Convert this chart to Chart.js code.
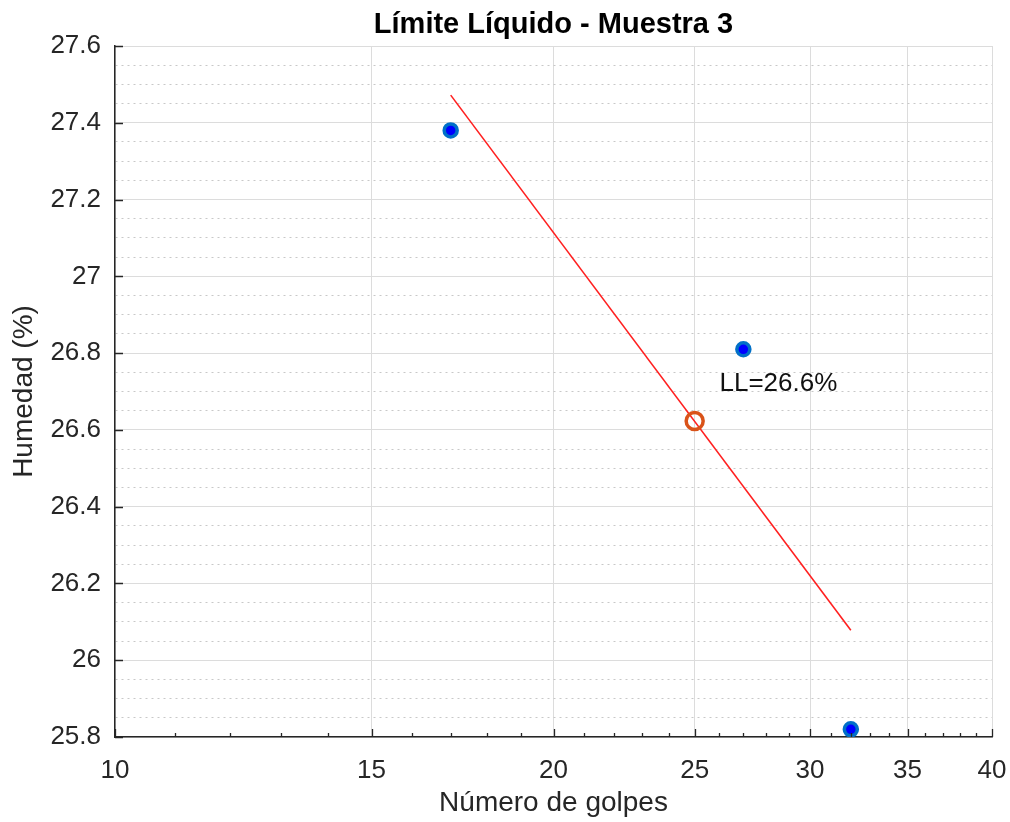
<!DOCTYPE html>
<html>
<head>
<meta charset="utf-8">
<script src="https://cdn.jsdelivr.net/npm/chart.js@4.4.1/dist/chart.umd.min.js"></script>
<style>
  html, body { margin: 0; padding: 0; background: #ffffff; }
  #wrap { width: 1010px; height: 822px; }
</style>
</head>
<body>
<div id="wrap"><canvas id="llChart" width="1010" height="822"></canvas></div>
<script>
// Ensayo de límite líquido
const golpes = [17, 27, 32];
const humedad = [27.38, 26.81, 25.82];

// recta de ajuste (semilog)
const ajusteX = [17, 32];
const ajusteY = [27.472, 26.078];

// punto a 25 golpes
const llX = [25];
const llY = [26.623];

// etiquetas de ejes
const xTickLabels = [10, 15, 20, 25, 30, 35, 40];
const yTickLabels = [25.8, 26, 26.2, 26.4, 26.6, 26.8, 27, 27.2, 27.4, 27.6];

const FONT = "'Liberation Sans', Arial, Helvetica, sans-serif";
const TXT = '#262626';

const isMajorY = v => yTickLabels.some(m => Math.abs(m - v) < 1e-6);
const isMajorX = v => xTickLabels.some(m => Math.abs(m - v) < 1e-6);

// ticks hacia adentro, títulos y texto LL
const decor = {
  id: 'decor',
  afterDraw(chart) {
    const { ctx, chartArea: a, scales: { x, y } } = chart;
    ctx.save();
    ctx.strokeStyle = TXT;
    ctx.lineWidth = 1.3;
    ctx.beginPath();
    yTickLabels.forEach(v => {
      const py = Math.round(y.getPixelForValue(v)) + 0.5;
      ctx.moveTo(a.left, py);
      ctx.lineTo(a.left + 8, py);
    });
    for (let v = 10; v <= 40; v++) {
      const px = Math.round(x.getPixelForValue(v)) + 0.5;
      ctx.moveTo(px, a.bottom);
      ctx.lineTo(px, a.bottom - (isMajorX(v) ? 8 : 4));
    }
    ctx.stroke();

    // texto LL
    ctx.fillStyle = '#111111';
    ctx.font = '26px ' + FONT;
    ctx.textAlign = 'left';
    ctx.textBaseline = 'middle';
    ctx.fillText('LL=' + llY[0].toFixed(1) + '%', x.getPixelForValue(26), y.getPixelForValue(26.72));

    // título
    const cx = (a.left + a.right) / 2;
    ctx.fillStyle = '#000000';
    ctx.font = 'bold 29px ' + FONT;
    ctx.textAlign = 'center';
    ctx.textBaseline = 'alphabetic';
    ctx.fillText('Límite Líquido - Muestra 3', cx, 33);

    // títulos de ejes
    ctx.fillStyle = TXT;
    ctx.font = '28px ' + FONT;
    ctx.textBaseline = 'middle';
    ctx.fillText('Número de golpes', cx, 803);
    ctx.save();
    ctx.translate(24, (a.top + a.bottom) / 2);
    ctx.rotate(-Math.PI / 2);
    ctx.fillText('Humedad (%)', 0, 0);
    ctx.restore();
    ctx.restore();
  }
};

new Chart(document.getElementById('llChart'), {
  type: 'scatter',
  data: {
    datasets: [
      {
        label: 'Ajuste',
        data: ajusteX.map((v, i) => ({ x: v, y: ajusteY[i] })),
        showLine: true,
        borderColor: '#ff2020',
        borderWidth: 1.6,
        pointRadius: 0,
        order: 3
      },
      {
        label: 'Datos',
        data: golpes.map((v, i) => ({ x: v, y: humedad[i] })),
        pointRadius: 6.5,
        pointBorderWidth: 3.5,
        pointBackgroundColor: '#0000ff',
        pointBorderColor: '#0070c8',
        order: 1
      },
      {
        label: 'LL',
        data: llX.map((v, i) => ({ x: v, y: llY[i] })),
        pointRadius: 8.5,
        pointBorderWidth: 3.5,
        pointBackgroundColor: 'rgba(255,255,255,0)',
        pointBorderColor: '#d95319',
        order: 2
      }
    ]
  },
  options: {
    responsive: false,
    animation: false,
    layout: { padding: { left: 0, top: 46, right: 18, bottom: 0 } },
    plugins: { legend: { display: false }, tooltip: { enabled: false }, title: { display: false } },
    scales: {
      x: {
        type: 'logarithmic',
        min: 10,
        max: 40,
        afterBuildTicks: s => { const t = []; for (let v = 10; v <= 40; v++) t.push({ value: v }); s.ticks = t; },
        afterFit: s => { s.height = 85; s.paddingLeft = 0; s.paddingRight = 0; },
        ticks: {
          autoSkip: false,
          maxRotation: 0,
          padding: 18,
          color: TXT,
          font: { family: FONT, size: 26 },
          callback: v => isMajorX(v) ? String(v) : ''
        },
        grid: {
          drawTicks: false,
          color: '#dcdcdc',
          lineWidth: c => (c.tick && isMajorX(c.tick.value)) ? 1 : 0
        },
        border: { display: true, color: TXT, width: 1.5 }
      },
      y: {
        type: 'linear',
        min: 25.8,
        max: 27.6,
        afterBuildTicks: s => { const t = []; for (let i = 0; i <= 36; i++) t.push({ value: Math.round((25.8 + i * 0.05) * 100) / 100 }); s.ticks = t; },
        afterFit: s => { s.width = 115; s.paddingTop = 0; s.paddingBottom = 0; },
        ticks: {
          autoSkip: false,
          padding: 14,
          color: TXT,
          font: { family: FONT, size: 26 },
          callback: v => isMajorY(v) ? String(Math.round(v * 100) / 100) : ''
        },
        grid: {
          drawTicks: false,
          color: c => (c.tick && isMajorY(c.tick.value)) ? '#dcdcdc' : '#c8c8c8',
          lineWidth: 1
        },
        border: {
          display: true,
          color: TXT,
          width: 1.5,
          dash: c => (c.tick && !isMajorY(c.tick.value)) ? [2, 4] : []
        }
      }
    }
  },
  plugins: [decor]
});
</script>
</body>
</html>
